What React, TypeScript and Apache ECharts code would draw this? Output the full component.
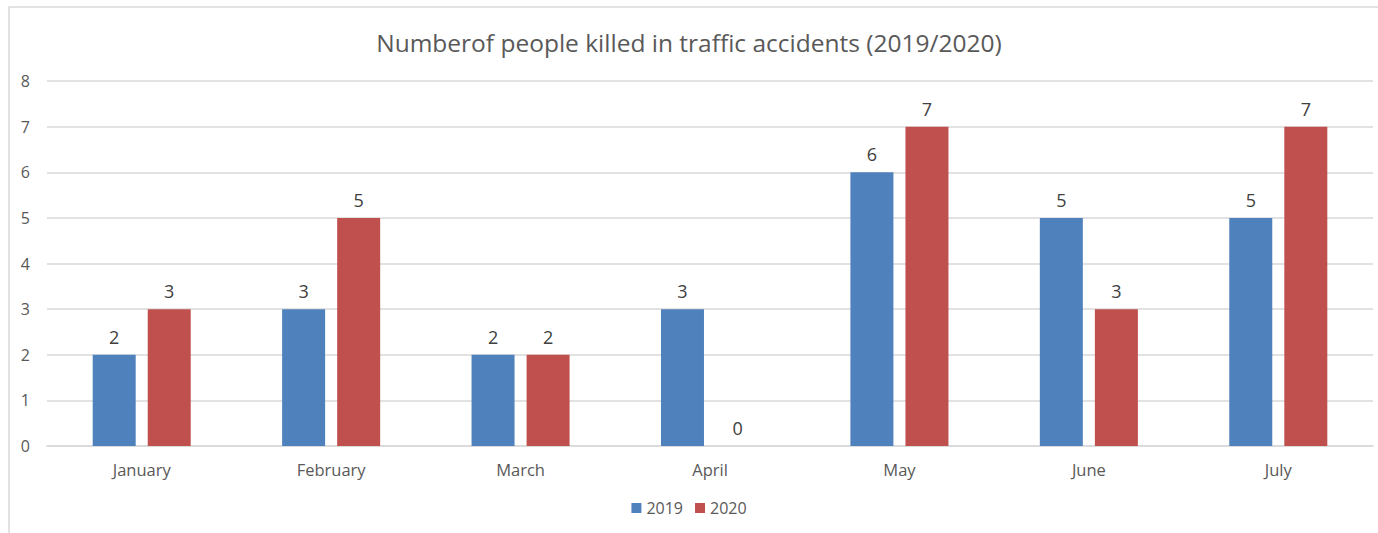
import React, { useEffect, useRef } from "react";
import * as echarts from "echarts";

const months = ["January", "February", "March", "April", "May", "June", "July"];
const values2019 = [2, 3, 2, 3, 6, 5, 5];
const values2020 = [3, 5, 2, 0, 7, 3, 7];
const yTicks = { min: 0, max: 8, interval: 1 };
const titleText = "Numberof people killed in traffic accidents (2019/2020)";

export default function App() {
  const ref = useRef<HTMLDivElement>(null);
  useEffect(() => {
    document.body.style.margin = "0";
    const chart = echarts.init(ref.current!, null, { renderer: "svg" });
    const font = "'Open Sans', 'Noto Sans', sans-serif";
    const labelStyle = { show: true, position: "top", color: "#404040", fontSize: 18, fontFamily: font, distance: 9 };
    chart.setOption({
      animation: false,
      textStyle: { fontFamily: font },
      graphic: [
        {
          type: "rect",
          shape: { x: 9, y: 7, width: 1380, height: 540 },
          style: { fill: "none", stroke: "#d9d9d9", lineWidth: 1.5 },
          silent: true,
        },
      ],
      title: {
        text: titleText,
        left: "center",
        top: 25,
        textStyle: { color: "#595959", fontSize: 24.5, fontWeight: "normal", fontFamily: font },
      },
      legend: {
        bottom: 12,
        left: "center",
        itemWidth: 10,
        itemHeight: 10,
        itemGap: 12,
        icon: "rect",
        textStyle: { color: "#595959", fontSize: 16, fontFamily: font },
        data: ["2019", "2020"],
      },
      grid: { left: 47, right: 5, top: 81, bottom: 87 },
      xAxis: {
        type: "category",
        data: months,
        axisTick: { show: false },
        axisLine: { show: true, lineStyle: { color: "#d9d9d9", width: 1.5 } },
        axisLabel: { color: "#595959", fontSize: 16.5, margin: 15, fontFamily: font },
      },
      yAxis: {
        type: "value",
        min: yTicks.min,
        max: yTicks.max,
        interval: yTicks.interval,
        axisLine: { show: false },
        axisTick: { show: false },
        axisLabel: { color: "#595959", fontSize: 16, margin: 17, fontFamily: font },
        splitLine: { lineStyle: { color: "#d9d9d9", width: 1.5 } },
      },
      series: [
        {
          name: "2019",
          type: "bar",
          data: values2019,
          barWidth: 43,
          barGap: "28%",
          itemStyle: { color: "#4F81BD" },
          label: labelStyle,
        },
        {
          name: "2020",
          type: "bar",
          data: values2020,
          barWidth: 43,
          itemStyle: { color: "#C0504D" },
          label: labelStyle,
        },
      ],
    });
    return () => chart.dispose();
  }, []);
  return <div ref={ref} style={{ width: 1378, height: 533 }} />;
}
